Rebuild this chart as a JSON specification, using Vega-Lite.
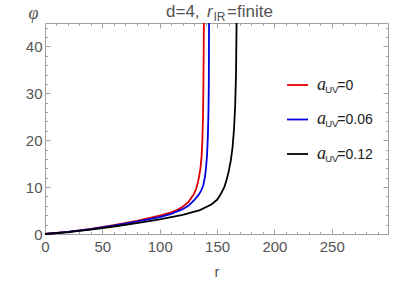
{
  "$schema": "https://vega.github.io/schema/vega-lite/v6.json",
  "width": 343,
  "height": 211,
  "autosize": "none",
  "padding": {"left": 45, "top": 23, "right": 19, "bottom": 48},
  "background": "white",
  "config": {
    "view": {"stroke": null},
    "axis": {
      "domainColor": "#a0a0a0",
      "tickColor": "#a0a0a0",
      "labelColor": "#555555",
      "labelFont": "Liberation Sans",
      "labelFontSize": 15,
      "titleFont": "Liberation Sans",
      "titleColor": "#555555",
      "titleFontWeight": "normal",
      "grid": false,
      "labelOverlap": false,
      "labelFlush": false
    }
  },
  "datasets": {
    "curves": [
      {"series": "0", "r": 0, "phi": 0},
      {"series": "0", "r": 20, "phi": 0.45},
      {"series": "0", "r": 40, "phi": 1.1},
      {"series": "0", "r": 60, "phi": 1.9},
      {"series": "0", "r": 80, "phi": 2.8},
      {"series": "0", "r": 100, "phi": 3.9},
      {"series": "0", "r": 110, "phi": 4.6},
      {"series": "0", "r": 115, "phi": 5.1},
      {"series": "0", "r": 120, "phi": 5.8},
      {"series": "0", "r": 125, "phi": 6.8},
      {"series": "0", "r": 130, "phi": 8.6},
      {"series": "0", "r": 132, "phi": 9.8},
      {"series": "0", "r": 134, "phi": 11.8},
      {"series": "0", "r": 135.5, "phi": 14},
      {"series": "0", "r": 136.5, "phi": 16.5},
      {"series": "0", "r": 137.2, "phi": 20},
      {"series": "0", "r": 137.7, "phi": 25},
      {"series": "0", "r": 138, "phi": 30},
      {"series": "0", "r": 138.3, "phi": 38},
      {"series": "0", "r": 138.5, "phi": 45},
      {"series": "0.06", "r": 0, "phi": 0},
      {"series": "0.06", "r": 20, "phi": 0.43},
      {"series": "0.06", "r": 40, "phi": 1.05},
      {"series": "0.06", "r": 60, "phi": 1.8},
      {"series": "0.06", "r": 80, "phi": 2.65},
      {"series": "0.06", "r": 100, "phi": 3.6},
      {"series": "0.06", "r": 110, "phi": 4.3},
      {"series": "0.06", "r": 120, "phi": 5.3},
      {"series": "0.06", "r": 125, "phi": 6.0},
      {"series": "0.06", "r": 130, "phi": 7.2},
      {"series": "0.06", "r": 134, "phi": 8.4},
      {"series": "0.06", "r": 136, "phi": 9.2},
      {"series": "0.06", "r": 138, "phi": 10.4},
      {"series": "0.06", "r": 139.5, "phi": 12.3},
      {"series": "0.06", "r": 140.5, "phi": 14.5},
      {"series": "0.06", "r": 141.3, "phi": 17},
      {"series": "0.06", "r": 142, "phi": 21},
      {"series": "0.06", "r": 142.5, "phi": 26},
      {"series": "0.06", "r": 142.8, "phi": 32},
      {"series": "0.06", "r": 143, "phi": 45},
      {"series": "0.12", "r": 0, "phi": 0},
      {"series": "0.12", "r": 20, "phi": 0.4},
      {"series": "0.12", "r": 40, "phi": 0.95},
      {"series": "0.12", "r": 60, "phi": 1.6},
      {"series": "0.12", "r": 80, "phi": 2.3},
      {"series": "0.12", "r": 100, "phi": 3.1},
      {"series": "0.12", "r": 120, "phi": 4.1},
      {"series": "0.12", "r": 135, "phi": 5.1},
      {"series": "0.12", "r": 145, "phi": 6.3},
      {"series": "0.12", "r": 150, "phi": 7.3},
      {"series": "0.12", "r": 153, "phi": 8.4},
      {"series": "0.12", "r": 156.3, "phi": 10},
      {"series": "0.12", "r": 158, "phi": 11.3},
      {"series": "0.12", "r": 160, "phi": 13.2},
      {"series": "0.12", "r": 162, "phi": 15.7},
      {"series": "0.12", "r": 163.5, "phi": 18.5},
      {"series": "0.12", "r": 164.8, "phi": 22.5},
      {"series": "0.12", "r": 165.8, "phi": 27.5},
      {"series": "0.12", "r": 166.5, "phi": 34},
      {"series": "0.12", "r": 167, "phi": 45}
    ],
    "legend": [
      {"series": "0", "aUV": 0, "val": "=0"},
      {"series": "0.06", "aUV": 0.06, "val": "=0.06"},
      {"series": "0.12", "aUV": 0.12, "val": "=0.12"}
    ]
  },
  "layer": [
    {
      "data": {"name": "curves"},
      "mark": {"type": "line", "strokeWidth": 1.8},
      "encoding": {
        "x": {
          "field": "r", "type": "quantitative",
          "scale": {"domain": [0, 299], "nice": false},
          "axis": {
            "orient": "bottom",
            "values": [0,10,20,30,40,50,60,70,80,90,100,110,120,130,140,150,160,170,180,190,200,210,220,230,240,250,260,270,280,290],
            "labelExpr": "datum.value % 50 === 0 ? datum.label : ''",
            "tickSize": {"condition": {"test": "datum.value % 50 === 0", "value": -5}, "value": -2.5},
            "labelPadding": 10.5,
            "title": "r",
            "titleFontSize": 15,
            "titlePadding": 7
          }
        },
        "y": {
          "field": "phi", "type": "quantitative",
          "scale": {"domain": [0, 45], "nice": false},
          "axis": {
            "orient": "left",
            "values": [0,2,4,6,8,10,12,14,16,18,20,22,24,26,28,30,32,34,36,38,40,42,44],
            "labelExpr": "datum.value % 10 === 0 ? datum.label : ''",
            "tickSize": {"condition": {"test": "datum.value % 10 === 0", "value": -5}, "value": -2.5},
            "labelPadding": 8,
            "title": "φ",
            "titleFont": "Liberation Serif",
            "titleFontStyle": "italic",
            "titleFontSize": 18,
            "titleAngle": 0,
            "titleAlign": "center",
            "titleBaseline": "middle",
            "titleX": -12,
            "titleY": -10
          }
        },
        "color": {
          "field": "series", "type": "nominal",
          "scale": {"domain": ["0", "0.06", "0.12"], "range": ["#e00000", "#0000e0", "#000000"]},
          "legend": null
        }
      }
    },
    {
      "data": {"values": [{}]},
      "mark": {"type": "text", "align": "left", "baseline": "alphabetic", "font": "Liberation Sans", "fontSize": 17, "color": "#555555"},
      "encoding": {
        "text": {"value": "d=4,"},
        "x": {
          "datum": 105.5, "type": "quantitative",
          "scale": {"domain": [0, 299], "nice": false},
          "axis": {
            "orient": "top",
            "values": [0,10,20,30,40,50,60,70,80,90,100,110,120,130,140,150,160,170,180,190,200,210,220,230,240,250,260,270,280,290],
            "labels": false,
            "tickSize": {"condition": {"test": "datum.value % 50 === 0", "value": -5}, "value": -2.5},
            "title": null
          }
        },
        "y": {
          "datum": 46.28, "type": "quantitative",
          "scale": {"domain": [0, 45], "nice": false},
          "axis": {
            "orient": "right",
            "values": [0,2,4,6,8,10,12,14,16,18,20,22,24,26,28,30,32,34,36,38,40,42,44],
            "labels": false,
            "tickSize": {"condition": {"test": "datum.value % 10 === 0", "value": -5}, "value": -2.5},
            "title": null
          }
        }
      }
    },
    {
      "data": {"values": [{}]},
      "mark": {"type": "text", "align": "left", "baseline": "alphabetic", "font": "Liberation Sans", "fontStyle": "italic", "fontSize": 17, "color": "#555555"},
      "encoding": {
        "text": {"value": "r"},
        "x": {"datum": 141.2, "type": "quantitative", "scale": {"domain": [0, 299], "nice": false}, "axis": null},
        "y": {"datum": 46.28, "type": "quantitative", "scale": {"domain": [0, 45], "nice": false}, "axis": null}
      }
    },
    {
      "data": {"values": [{}]},
      "mark": {"type": "text", "align": "left", "baseline": "alphabetic", "font": "Liberation Sans", "fontSize": 12, "color": "#555555"},
      "encoding": {
        "text": {"value": "IR"},
        "x": {"datum": 146.9, "type": "quantitative", "scale": {"domain": [0, 299], "nice": false}, "axis": null},
        "y": {"datum": 45.43, "type": "quantitative", "scale": {"domain": [0, 45], "nice": false}, "axis": null}
      }
    },
    {
      "data": {"values": [{}]},
      "mark": {"type": "text", "align": "left", "baseline": "alphabetic", "font": "Liberation Sans", "fontSize": 17, "color": "#555555"},
      "encoding": {
        "text": {"value": "=finite"},
        "x": {"datum": 158.7, "type": "quantitative", "scale": {"domain": [0, 299], "nice": false}, "axis": null},
        "y": {"datum": 46.28, "type": "quantitative", "scale": {"domain": [0, 45], "nice": false}, "axis": null}
      }
    },
    {
      "data": {"name": "legend"},
      "mark": {"type": "rule", "strokeWidth": 1.8},
      "encoding": {
        "x": {"datum": 211, "type": "quantitative", "scale": {"domain": [0, 299], "nice": false}, "axis": null},
        "x2": {"datum": 229.3},
        "y": {"field": "aUV", "type": "quantitative", "scale": {"domain": [-0.1078, 0.2591], "reverse": true, "nice": false, "zero": false}, "axis": null},
        "color": {"field": "series", "type": "nominal", "legend": null}
      }
    },
    {
      "data": {"name": "legend"},
      "mark": {"type": "text", "align": "left", "baseline": "alphabetic", "dy": 5, "font": "Liberation Serif", "fontStyle": "italic", "fontSize": 18, "color": "#222222"},
      "encoding": {
        "text": {"value": "a"},
        "x": {"datum": 237.1, "type": "quantitative", "scale": {"domain": [0, 299], "nice": false}, "axis": null},
        "y": {"field": "aUV", "type": "quantitative", "scale": {"domain": [-0.1078, 0.2591], "reverse": true, "nice": false, "zero": false}, "axis": null}
      }
    },
    {
      "data": {"name": "legend"},
      "mark": {"type": "text", "align": "left", "baseline": "alphabetic", "dy": 8, "font": "Liberation Sans", "fontSize": 9.5, "color": "#222222"},
      "encoding": {
        "text": {"value": "UV"},
        "x": {"datum": 244.3, "type": "quantitative", "scale": {"domain": [0, 299], "nice": false}, "axis": null},
        "y": {"field": "aUV", "type": "quantitative", "scale": {"domain": [-0.1078, 0.2591], "reverse": true, "nice": false, "zero": false}, "axis": null}
      }
    },
    {
      "data": {"name": "legend"},
      "mark": {"type": "text", "align": "left", "baseline": "alphabetic", "dy": 5, "font": "Liberation Sans", "fontSize": 14, "color": "#222222"},
      "encoding": {
        "text": {"field": "val"},
        "x": {"datum": 254.8, "type": "quantitative", "scale": {"domain": [0, 299], "nice": false}, "axis": null},
        "y": {"field": "aUV", "type": "quantitative", "scale": {"domain": [-0.1078, 0.2591], "reverse": true, "nice": false, "zero": false}, "axis": null}
      }
    }
  ],
  "resolve": {"scale": {"y": "independent"}, "axis": {"x": "independent", "y": "independent"}}
}
